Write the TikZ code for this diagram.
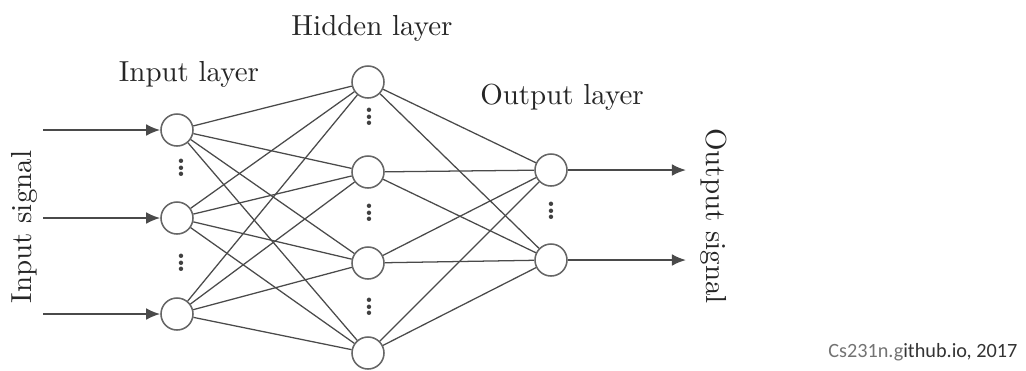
\documentclass[tikz,border=0pt]{standalone}
\usepackage{fontspec}
\newfontfamily\notefont{Carlito}
\usetikzlibrary{arrows.meta}
\definecolor{wire}{HTML}{4A4A4A}
\definecolor{ring}{HTML}{666666}
\newcommand\dotcol{\vbox{\baselineskip=2.4pt\lineskiplimit=-20pt\hbox{.}\hbox{.}\hbox{.}}}
\begin{document}
\begin{tikzpicture}[x=0.0125cm,y=-0.0125cm,
  font=\fontsize{10.3}{12}\selectfont,
  neuron/.style={draw=ring, circle, line width=0.55pt, minimum size=0.4cm, inner sep=0pt},
  dots/.style={inner sep=0pt, font=\bfseries, text=black!75},
  label/.style={text=black!85}]
\useasboundingbox (0,0) rectangle (1026,370);

% labels
\node[label] (il) at (189,74) {Input layer};
\node[label] (hl) at (372,28) {Hidden layer};
\node[label] (ol) at (562,97) {Output layer};
\node[label, rotate=90] (is) at (24,227) {Input signal};
\node[label, rotate=-90] (os) at (714,216) {Output signal};

% neurons
\node[neuron] (1) at (177,130) {};
\node[neuron] (2) at (177,218) {};
\node[neuron] (3) at (177,314) {};
\node[neuron] (4) at (368,82) {};
\node[neuron] (5) at (368,172) {};
\node[neuron] (6) at (368,263) {};
\node[neuron] (7) at (368,353) {};
\node[neuron] (8) at (551,170) {};
\node[neuron] (9) at (551,260) {};

\node[dots] (d1) at (181,168) {\dotcol};
\node[dots] (d2) at (181,263) {\dotcol};
\node[dots] (d3) at (369,117) {\dotcol};
\node[dots] (d4) at (369,213) {\dotcol};
\node[dots] (d5) at (369,307) {\dotcol};
\node[dots] (d6) at (551,211) {\dotcol};

% signal ends
\coordinate (a1) at (43,130);
\coordinate (a2) at (43,218);
\coordinate (a3) at (43,314);
\coordinate (b1) at (686,170);
\coordinate (b2) at (686,260);

\path[draw,wire,line width=0.7pt,->,>={Latex[length=5pt,width=4.2pt]}] (a1) -- (1);
\path[draw,wire,line width=0.7pt,->,>={Latex[length=5pt,width=4.2pt]}] (a2) -- (2);
\path[draw,wire,line width=0.7pt,->,>={Latex[length=5pt,width=4.2pt]}] (a3) -- (3);
\path[draw,wire,line width=0.7pt,->,>={Latex[length=5pt,width=4.2pt]}] (8) -- (b1);
\path[draw,wire,line width=0.7pt,->,>={Latex[length=5pt,width=4.2pt]}] (9) -- (b2);

\path[draw,wire,line width=0.45pt] (1) -- (4);
\path[draw,wire,line width=0.45pt] (1) -- (5);
\path[draw,wire,line width=0.45pt] (1) -- (6);
\path[draw,wire,line width=0.45pt] (1) -- (7);
\path[draw,wire,line width=0.45pt] (2) -- (4);
\path[draw,wire,line width=0.45pt] (2) -- (5);
\path[draw,wire,line width=0.45pt] (2) -- (6);
\path[draw,wire,line width=0.45pt] (2) -- (7);
\path[draw,wire,line width=0.45pt] (3) -- (4);
\path[draw,wire,line width=0.45pt] (3) -- (5);
\path[draw,wire,line width=0.45pt] (3) -- (6);
\path[draw,wire,line width=0.45pt] (3) -- (7);
\path[draw,wire,line width=0.45pt] (4) -- (8);
\path[draw,wire,line width=0.45pt] (4) -- (9);
\path[draw,wire,line width=0.45pt] (5) -- (8);
\path[draw,wire,line width=0.45pt] (5) -- (9);
\path[draw,wire,line width=0.45pt] (6) -- (8);
\path[draw,wire,line width=0.45pt] (6) -- (9);
\path[draw,wire,line width=0.45pt] (7) -- (8);
\path[draw,wire,line width=0.45pt] (7) -- (9);

% source
\node[anchor=east, inner sep=0pt, font=\notefont\fontsize{7.2}{8}\selectfont] (src) at (1018,352)
  {\textcolor{black!55}{Cs231n.g}\textcolor{black!80}{ithub.io, 2017}};
\end{tikzpicture}
\end{document}
